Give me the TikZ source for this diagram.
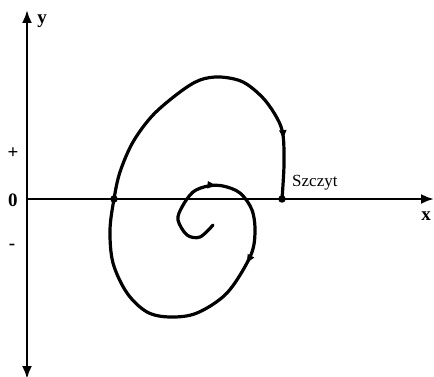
\documentclass[tikz,border=0pt]{standalone}
\usepackage{fontspec}
\setmainfont{Liberation Serif}
\usetikzlibrary{positioning, arrows.meta, decorations.markings}

\begin{document}
\begin{tikzpicture}[x=1pt, y=-1pt,
  axis/.style={line width=2.4pt},
  orbit/.style={line width=3.2pt, line join=round, line cap=round},
  dot/.style={circle, fill=black, inner sep=0pt, minimum size=7.5pt},
  lbl/.style={font=\fontsize{19}{19}\selectfont\bfseries, inner sep=0pt}]
\useasboundingbox (0,0) rectangle (434,377);

% Axes
\coordinate (ytop) at (27,10);
\coordinate (ybot) at (27,379);
\coordinate (org) at (27,199);
\coordinate (xend) at (434,199);
\draw[axis, {Latex[length=13pt, width=10pt]}-{Latex[length=13pt, width=10pt]}] (ybot) -- (ytop);
\draw[axis, -{Latex[length=13pt, width=10pt]}] (org) -- (xend);

% Axis labels
\node[lbl] (ylab) at (42,21) {y};
\node[lbl] (xlab) at (426,216) {x};
\node[lbl] (plus) at (13,153) {+};
\node[lbl] (zero) at (13,200) {0};
\node[lbl] (minus) at (12,247) {-};

% Points on the x axis
\node[dot] (peak) at (282,199) {};
\node[dot] (cross) at (114,199) {};
\node[font=\fontsize{17}{17}\selectfont, inner sep=0pt, anchor=south west] (peaklab) at (292,190) {Szczyt};

% Spiral, from the centre out to the peak
\draw[orbit, postaction={decorate}, decoration={markings,
    mark=at position 0.137 with {\arrow{Latex[length=10pt, width=8pt]}},
    mark=at position 0.266 with {\arrow{Latex[length=10pt, width=8pt]}},
    mark=at position 0.925 with {\arrow{Latex[length=10pt, width=8pt]}}}]
  plot[smooth, tension=0.55] coordinates {(213,225) (200,237) (187,235)
    (178,220) (182,207) (193,192) (208,186) (223,186) (240,193) (252,210)
    (255,233) (250,257) (227,293) (197,313) (170,317) (147,312) (127,293)
    (113,263) (110,230) (cross) (120,172) (133,142) (153,115) (180,92)
    (200,80) (220,77) (243,82) (263,98) (277,118) (283,135) (284,165) (peak)};

\end{tikzpicture}
\end{document}
